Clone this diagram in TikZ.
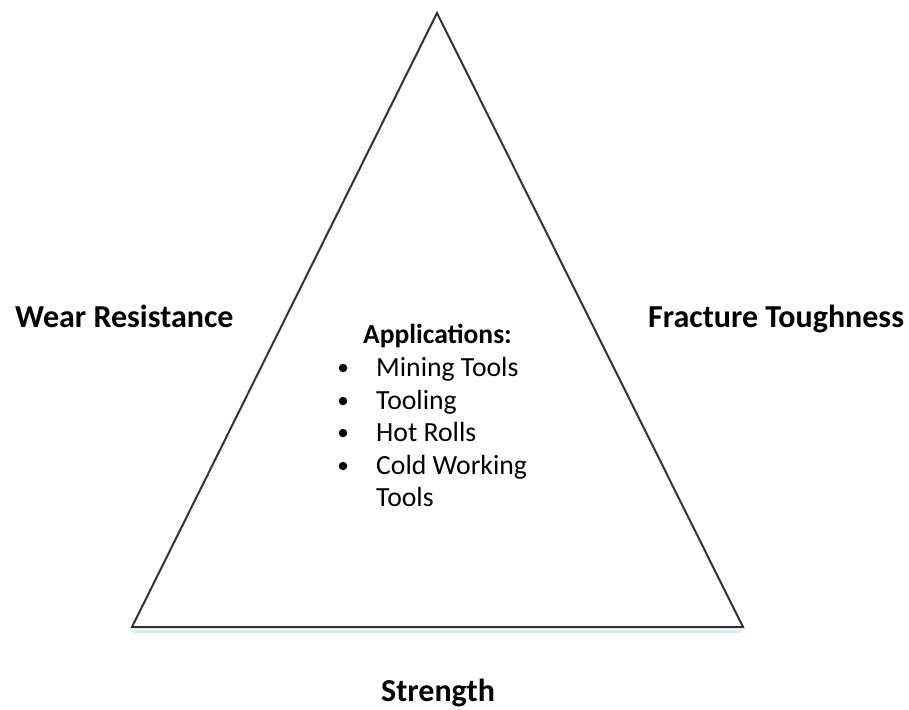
\documentclass[tikz,border=0pt]{standalone}
\usepackage{fontspec}
\setmainfont{Carlito}
\definecolor{baseglow}{RGB}{215,232,248}
\begin{document}
\begin{tikzpicture}[x=1pt,y=-1pt,
  edge/.style={draw=black!80, line width=2pt, line join=miter},
  head/.style={inner sep=0pt, anchor=base west, font=\fontsize{32}{38}\selectfont\bfseries},
  item/.style={inner sep=0pt, anchor=base west, font=\fontsize{27.7}{33}\selectfont},
  bul/.style={circle, fill=black, inner sep=0pt, minimum size=8.5pt}]
\useasboundingbox[fill=white] (0,0) rectangle (909,709);
\coordinate (top) at (437,13);
\coordinate (bl) at (132,627);
\coordinate (br) at (743,627);
\draw[draw=baseglow, line width=3pt] (134,631) -- (741,631);
\draw[edge] (top) -- (bl) -- (br) -- cycle;
\node[head] (wear) at (15,327) {Wear Resistance};
\node[head] (frac) at (648,327) {Fracture Toughness};
\node[head] (str) at (381,701) {Strength};
\node[item, font=\fontsize{27.5}{33}\selectfont\bfseries] (app) at (363,343) {Applications:};
\node[item] (i1) at (376,376) {Mining Tools};
\node[item] (i2) at (376,409) {Tooling};
\node[item] (i3) at (376,441) {Hot Rolls};
\node[item] (i4) at (376,474) {Cold Working};
\node[item] (i5) at (376,506) {Tools};
\node[bul] (b1) at (343,368) {};
\node[bul] (b2) at (343,401) {};
\node[bul] (b3) at (343,433) {};
\node[bul] (b4) at (343,466) {};
\end{tikzpicture}
\end{document}
